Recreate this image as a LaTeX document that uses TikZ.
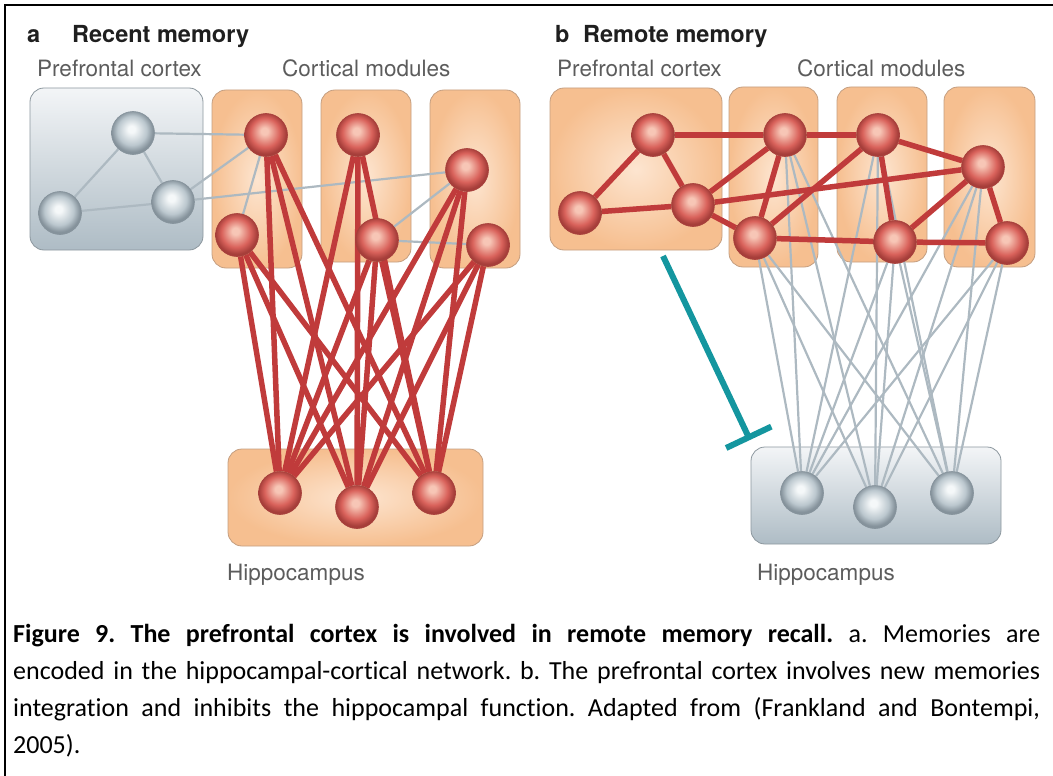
\documentclass[tikz,border=0pt]{standalone}
\usepackage{fontspec}
\setmainfont{TeX Gyre Heros}
\newfontfamily\capfont[Ligatures=NoCommon]{Carlito}
\usetikzlibrary{arrows.meta}

\definecolor{RedHi}{HTML}{F7C6B6}
\definecolor{RedMid}{HTML}{D9625B}
\definecolor{RedRim}{HTML}{A63E3A}
\definecolor{GrayHi}{HTML}{F5F8F9}
\definecolor{GrayMid}{HTML}{BBC7CE}
\definecolor{GrayRim}{HTML}{85929B}
\definecolor{LinkRed}{HTML}{C03B3B}
\definecolor{LinkGray}{HTML}{ADB9C1}
\definecolor{BoxOrange}{HTML}{F6BF90}
\definecolor{BoxPeach}{HTML}{FDE5D0}
\definecolor{BoxEdge}{HTML}{C49E80}
\definecolor{PaneTop}{HTML}{F3F5F7}
\definecolor{PaneBot}{HTML}{AEBCC5}
\definecolor{PaneEdge}{HTML}{8C979E}
\definecolor{Inhib}{HTML}{14969F}
\definecolor{LabGray}{HTML}{5C5C5C}

\pgfdeclareradialshading{redball}{\pgfpoint{-2bp}{5bp}}{color(0bp)=(RedHi); color(4bp)=(RedHi); color(17bp)=(RedMid); color(24bp)=(RedRim); color(40bp)=(RedRim)}
\pgfdeclareradialshading{grayball}{\pgfpoint{-2bp}{5bp}}{color(0bp)=(GrayHi); color(4bp)=(GrayHi); color(17bp)=(GrayMid); color(24bp)=(GrayRim); color(40bp)=(GrayRim)}

\pgfdeclarelayer{boxes}
\pgfdeclarelayer{links}
\pgfsetlayers{boxes,links,main}

\tikzset{
  rball/.style={circle, inner sep=0pt, minimum size=43pt, shade, shading=redball, draw=RedRim, line width=0.6pt},
  gball/.style={circle, inner sep=0pt, minimum size=43pt, shade, shading=grayball, draw=GrayRim, line width=0.6pt},
  obox/.style={rectangle, rounded corners=14pt, draw=BoxEdge, line width=0.8pt, shade, inner color=BoxPeach, outer color=BoxOrange},
  gbox/.style={rectangle, rounded corners=14pt, draw=PaneEdge, line width=0.8pt, shade, top color=PaneTop, bottom color=PaneBot},
  redlink/.style={draw=LinkRed, line width=5.5pt},
  graylink/.style={draw=LinkGray, line width=2.2pt},
  inhib/.style={draw=Inhib, line width=6pt, -{Bar[width=50pt]}},
  ptitle/.style={anchor=base west, inner sep=0pt, text=black!88, font=\fontsize{23.5}{28}\selectfont\bfseries},
  plabel/.style={anchor=base west, inner sep=0pt, text=LabGray, font=\fontsize{22.5}{27}\selectfont}
}

\begin{document}
\begin{tikzpicture}[x=1pt,y=-1pt]
\useasboundingbox (0,0) rectangle (1053,776);

% frame
\draw[line width=2.5pt] (1053,5) -- (5,5) -- (5,776);

%%% a: recent memory
\begin{scope}
\def\p{a}
\begin{pgfonlayer}{boxes}
\node[gbox, minimum width=173pt, minimum height=162pt] (\p-pfc) at (116.5,169) {};
\node[obox, minimum width=90pt, minimum height=178pt] (\p-mod1) at (257,179) {};
\node[obox, minimum width=90pt, minimum height=172pt] (\p-mod2) at (366,176) {};
\node[obox, minimum width=90pt, minimum height=178pt] (\p-mod3) at (475,179) {};
\node[obox, minimum width=255pt, minimum height=97pt] (\p-hip) at (355.5,497.5) {};
\end{pgfonlayer}

\node[ptitle] (\p-tag) at (27,43) {a};
\node[ptitle] (\p-title) at (72,43) {Recent memory};
\node[plabel] (\p-lpfc) at (37,77) {Prefrontal cortex};
\node[plabel] (\p-lmod) at (282,77) {Cortical modules};
\node[plabel] (\p-lhip) at (227,580) {Hippocampus};

% prefrontal
\node[gball] (\p-p1) at (133,133) {};
\node[gball] (\p-p2) at (60,213) {};
\node[gball] (\p-p3) at (173,202) {};
% cortex
\node[rball] (\p-c1) at (266,135) {};
\node[rball] (\p-c2) at (237,235) {};
\node[rball] (\p-c3) at (358,135) {};
\node[rball] (\p-c4) at (377,240) {};
\node[rball] (\p-c5) at (467,170) {};
\node[rball] (\p-c6) at (488,245) {};
% hippocampus
\node[rball] (\p-h1) at (280,493) {};
\node[rball] (\p-h2) at (357,507) {};
\node[rball] (\p-h3) at (434,493) {};

\begin{pgfonlayer}{links}
\draw[graylink] (\p-p1) -- (\p-p2) -- (\p-p3) -- (\p-p1);
\draw[graylink] (\p-p1) -- (\p-c1);
\draw[graylink] (\p-p3) -- (\p-c1);
\draw[graylink] (\p-c2) -- (\p-c1);
\draw[graylink] (\p-p3) -- (\p-c5);
\draw[graylink] (\p-c4) -- (\p-c5);
\draw[graylink] (\p-c4) -- (\p-c6);
\foreach \c in {1,...,6}
  \foreach \h in {1,2,3}
    \draw[redlink] (\p-c\c) -- (\p-h\h);
\end{pgfonlayer}
\end{scope}

%%% b: remote memory
\begin{scope}[xshift=520pt]
\def\p{b}
\begin{pgfonlayer}{boxes}
\node[obox, minimum width=172pt, minimum height=162pt] (\p-pfc) at (116,169) {};
\node[obox, minimum width=89pt, minimum height=180pt] (\p-mod1) at (253.5,177) {};
\node[obox, minimum width=90pt, minimum height=175pt] (\p-mod2) at (362,174.5) {};
\node[obox, minimum width=91pt, minimum height=180pt] (\p-mod3) at (469.5,177) {};
\node[gbox, minimum width=250pt, minimum height=97pt] (\p-hip) at (356,495.5) {};
\end{pgfonlayer}

\node[ptitle] (\p-tag) at (35,43) {b};
\node[ptitle] (\p-title) at (63,43) {Remote memory};
\node[plabel] (\p-lpfc) at (37,77) {Prefrontal cortex};
\node[plabel] (\p-lmod) at (277,77) {Cortical modules};
\node[plabel] (\p-lhip) at (237,580) {Hippocampus};

% prefrontal
\node[rball] (\p-p1) at (133,135) {};
\node[rball] (\p-p2) at (60,213) {};
\node[rball] (\p-p3) at (173,205) {};
% cortex
\node[rball] (\p-c1) at (265,135) {};
\node[rball] (\p-c2) at (235,238) {};
\node[rball] (\p-c3) at (358,135) {};
\node[rball] (\p-c4) at (375,242) {};
\node[rball] (\p-c5) at (463,167) {};
\node[rball] (\p-c6) at (487,243) {};
% hippocampus
\node[gball] (\p-h1) at (282,493) {};
\node[gball] (\p-h2) at (355,507) {};
\node[gball] (\p-h3) at (432,493) {};

\coordinate (\p-inh0) at (143,256);
\coordinate (\p-inh1) at (230,440);

\begin{pgfonlayer}{links}
\foreach \c in {1,...,6}
  \foreach \h in {1,2,3}
    \draw[graylink] (\p-c\c) -- (\p-h\h);
\draw[redlink] (\p-p1) -- (\p-p2) -- (\p-p3) -- (\p-p1);
\draw[redlink] (\p-p1) -- (\p-c1);
\draw[redlink] (\p-p3) -- (\p-c1);
\draw[redlink] (\p-p3) -- (\p-c2);
\draw[redlink] (\p-p3) -- (\p-c5);
\draw[redlink] (\p-c1) -- (\p-c3);
\draw[redlink] (\p-c1) -- (\p-c2);
\draw[redlink] (\p-c2) -- (\p-c3);
\draw[redlink] (\p-c2) -- (\p-c4);
\draw[redlink] (\p-c3) -- (\p-c5);
\draw[redlink] (\p-c3) -- (\p-c4);
\draw[redlink] (\p-c4) -- (\p-c5);
\draw[redlink] (\p-c4) -- (\p-c6);
\draw[redlink] (\p-c5) -- (\p-c6);
\end{pgfonlayer}

\draw[inhib] (\p-inh0) -- (\p-inh1);
\end{scope}

% caption
\node[anchor=base west, inner sep=0pt, text width=1027pt, align=justify,
      font=\capfont\fontsize{26}{37}\selectfont] (caption) at (13,642)
{\frenchspacing\hyphenpenalty=10000{\bfseries Figure 9. The prefrontal cortex is involved in remote memory recall.} a. Memories are\linebreak
encoded in the hippocampal-cortical network. b. The prefrontal cortex involves new memories\linebreak
integration and inhibits the hippocampal function. Adapted from (Frankland and Bontempi,\linebreak
2005).};

\end{tikzpicture}
\end{document}
